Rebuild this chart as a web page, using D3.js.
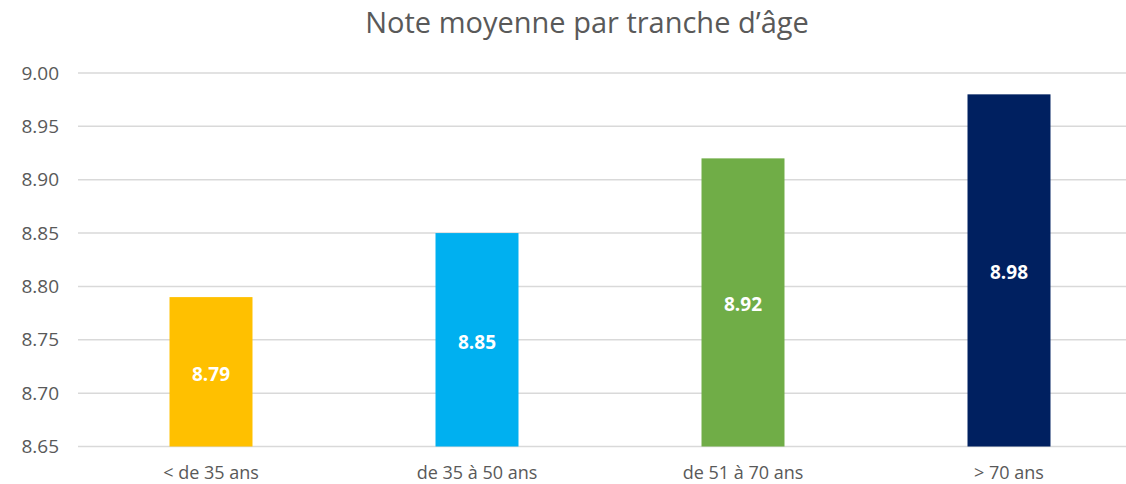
<!DOCTYPE html>
<html>
<head>
<meta charset="utf-8">
<script src="https://cdn.jsdelivr.net/npm/d3@7"></script>
<style>
  body { margin: 0; background: #fff; }
  text { font-family: "Open Sans", sans-serif; }
</style>
</head>
<body>
<div id="chart"></div>
<script>
let categories = ['< de 35 ans', 'de 35 à 50 ans', 'de 51 à 70 ans', '> 70 ans']
let values = [8.79, 8.85, 8.92, 8.98]
let colors = ['#FFC000', '#00B0F0', '#70AD47', '#002060']
let yTicks = [8.65, 8.70, 8.75, 8.80, 8.85, 8.90, 8.95, 9.00]
let title = 'Note moyenne par tranche d’âge'

function main () {
  let width = 1126
  let height = 484
  let left = 78
  let right = 1142
  let top = 73
  let bottom = 446.5

  let svg = d3.select('#chart').append('svg').attr('width', width).attr('height', height)

  let x = d3.scaleBand().domain(categories).range([left, right]).paddingInner(0.688).paddingOuter(0.344)
  let y = d3.scaleLinear().domain([8.65, 9.00]).range([bottom, top])

  // grid
  svg.append('g').selectAll('line').data(yTicks).enter().append('line')
    .attr('x1', left).attr('x2', right)
    .attr('y1', (d) => y(d)).attr('y2', (d) => y(d))
    .attr('stroke', '#d9d9d9').attr('stroke-width', 1.5)

  // y axis labels
  let yAxis = d3.axisLeft(y).tickValues(yTicks).tickFormat(d3.format('.2f')).tickSize(0).tickPadding(19)
  let ya = svg.append('g').attr('transform', `translate(${left},0)`).call(yAxis)
  ya.select('.domain').remove()
  ya.selectAll('text').attr('fill', '#595959').style('font-size', '19px')

  // bars
  svg.append('g').selectAll('rect').data(values).enter().append('rect')
    .attr('x', (d, i) => x(categories[i]))
    .attr('width', x.bandwidth())
    .attr('y', (d) => y(d))
    .attr('height', (d) => bottom - y(d))
    .attr('fill', (d, i) => colors[i])

  // value labels
  svg.append('g').selectAll('text').data(values).enter().append('text')
    .attr('x', (d, i) => x(categories[i]) + x.bandwidth() / 2)
    .attr('y', (d) => (y(d) + bottom) / 2 + 9)
    .attr('text-anchor', 'middle')
    .attr('fill', '#fff')
    .style('font-size', '19px')
    .style('font-weight', 'bold')
    .text((d) => d.toFixed(2))

  // x axis labels
  let xa = svg.append('g')
  xa.selectAll('text').data(categories).enter().append('text')
    .attr('x', (d) => x(d) + x.bandwidth() / 2)
    .attr('y', 479)
    .attr('text-anchor', 'middle')
    .attr('fill', '#595959')
    .style('font-size', '18px')
    .text((d) => d)

  // title
  svg.append('text')
    .attr('x', 587).attr('y', 33)
    .attr('text-anchor', 'middle')
    .attr('fill', '#595959')
    .style('font-size', '29px')
    .text(title)
}

main()
</script>
</body>
</html>
